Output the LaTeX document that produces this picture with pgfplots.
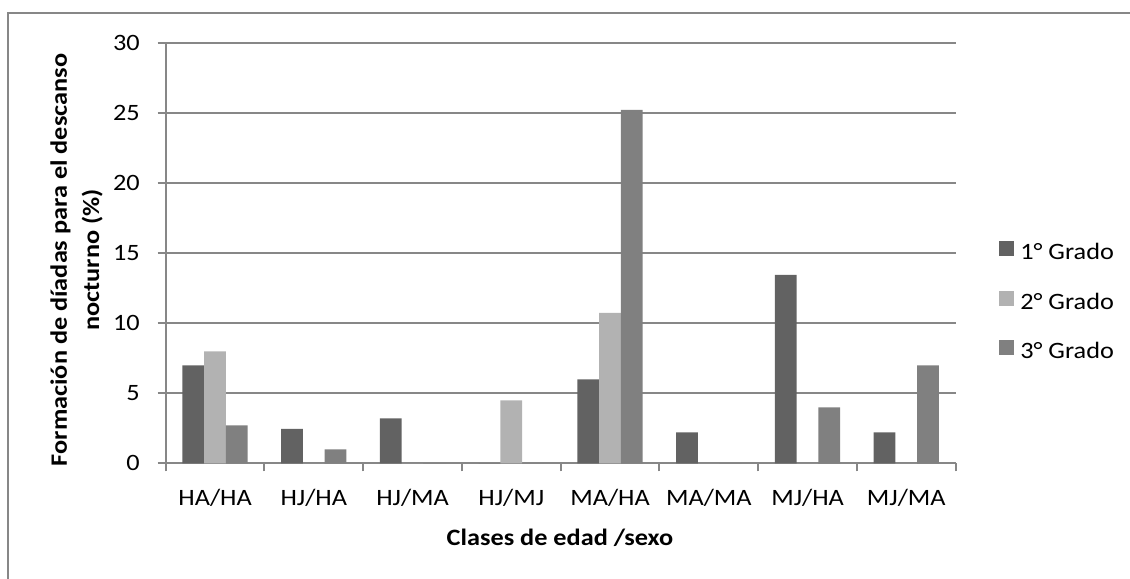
\documentclass[border=0pt]{standalone}
\usepackage{fontspec}
\setmainfont{Carlito}[FakeStretch=1.12]
\usepackage{pgfplots}
\pgfplotsset{compat=1.18}
\definecolor{c1}{HTML}{626262}
\definecolor{c2}{HTML}{B2B2B2}
\definecolor{c3}{HTML}{808080}
\definecolor{gridc}{HTML}{878787}
\begin{document}
\begin{tikzpicture}
\useasboundingbox (0,0) rectangle (847.5pt,433.5pt);
\draw[gridc, line width=1.5pt] (5.78pt,-20pt) -- (5.78pt,423.5pt) -- (870pt,423.5pt);
\begin{axis}[
  at={(124.28pt,86.03pt)}, anchor=south west,
  scale only axis, width=592.5pt, height=315pt,
  ybar=0pt, bar width=16.3pt,
  xmin=-0.5, xmax=7.5, ymin=0, ymax=30,
  enlargelimits=false,
  xtick={-0.5,0.5,...,7.5},
  xticklabels={HA/HA,HJ/HA,HJ/MA,HJ/MJ,MA/HA,MA/MA,MJ/HA,MJ/MA,{}},
  xticklabel style={anchor=base, xshift=37.03pt, yshift=-25.8pt, inner sep=0pt},
  ytick={0,5,...,30},
  yticklabel style={anchor=east, inner sep=0pt, xshift=-13.3pt},
  ticklabel style={font=\fontsize{17.6}{21}\selectfont},
  /pgf/number format/assume math mode=true,
  tick align=outside, major tick length=6pt,
  axis x line*=bottom, axis y line*=left,
  axis line style={-, gridc, line width=1.5pt},
  tick style={gridc, line width=1.5pt},
  ymajorgrids, grid style={gridc, line width=1.5pt},
  legend style={at={(1.054,0.3888)}, anchor=west, draw=none, fill=none, inner sep=0pt,
    font=\fontsize{17.6}{21}\selectfont,
    nodes={inner sep=0pt, text height=11.25pt, text depth=0pt},
    row sep=23.25pt,
    /tikz/every odd column/.append style={column sep=5pt}},
  legend cell align=left,
  legend image code/.code={\fill[#1] (0pt,-3pt) rectangle (11.25pt,8.25pt);},
]
\addplot[fill=c1, draw=none] coordinates {(0,7) (1,2.45) (2,3.2) (3,0) (4,6) (5,2.2) (6,13.45) (7,2.2)};
\addplot[fill=c2, draw=none] coordinates {(0,8) (1,0) (2,0) (3,4.5) (4,10.75) (5,0) (6,0) (7,0)};
\addplot[fill=c3, draw=none] coordinates {(0,2.7) (1,1) (2,0) (3,0) (4,25.25) (5,0) (6,4) (7,7)};
\legend{1° Grado, 2° Grado, 3° Grado}
\end{axis}
\node[rotate=90, anchor=base, font=\bfseries\fontsize{17.6}{21}\selectfont] at (50.25pt,238.5pt) {Formación de díadas para el descanso};
\node[rotate=90, anchor=base, font=\bfseries\fontsize{17.6}{21}\selectfont] at (74.25pt,238.5pt) {nocturno (\%)};
\node[anchor=base, font=\bfseries\fontsize{17.6}{21}\selectfont] at (420pt,24.75pt) {Clases de edad /sexo};
\end{tikzpicture}
\end{document}
